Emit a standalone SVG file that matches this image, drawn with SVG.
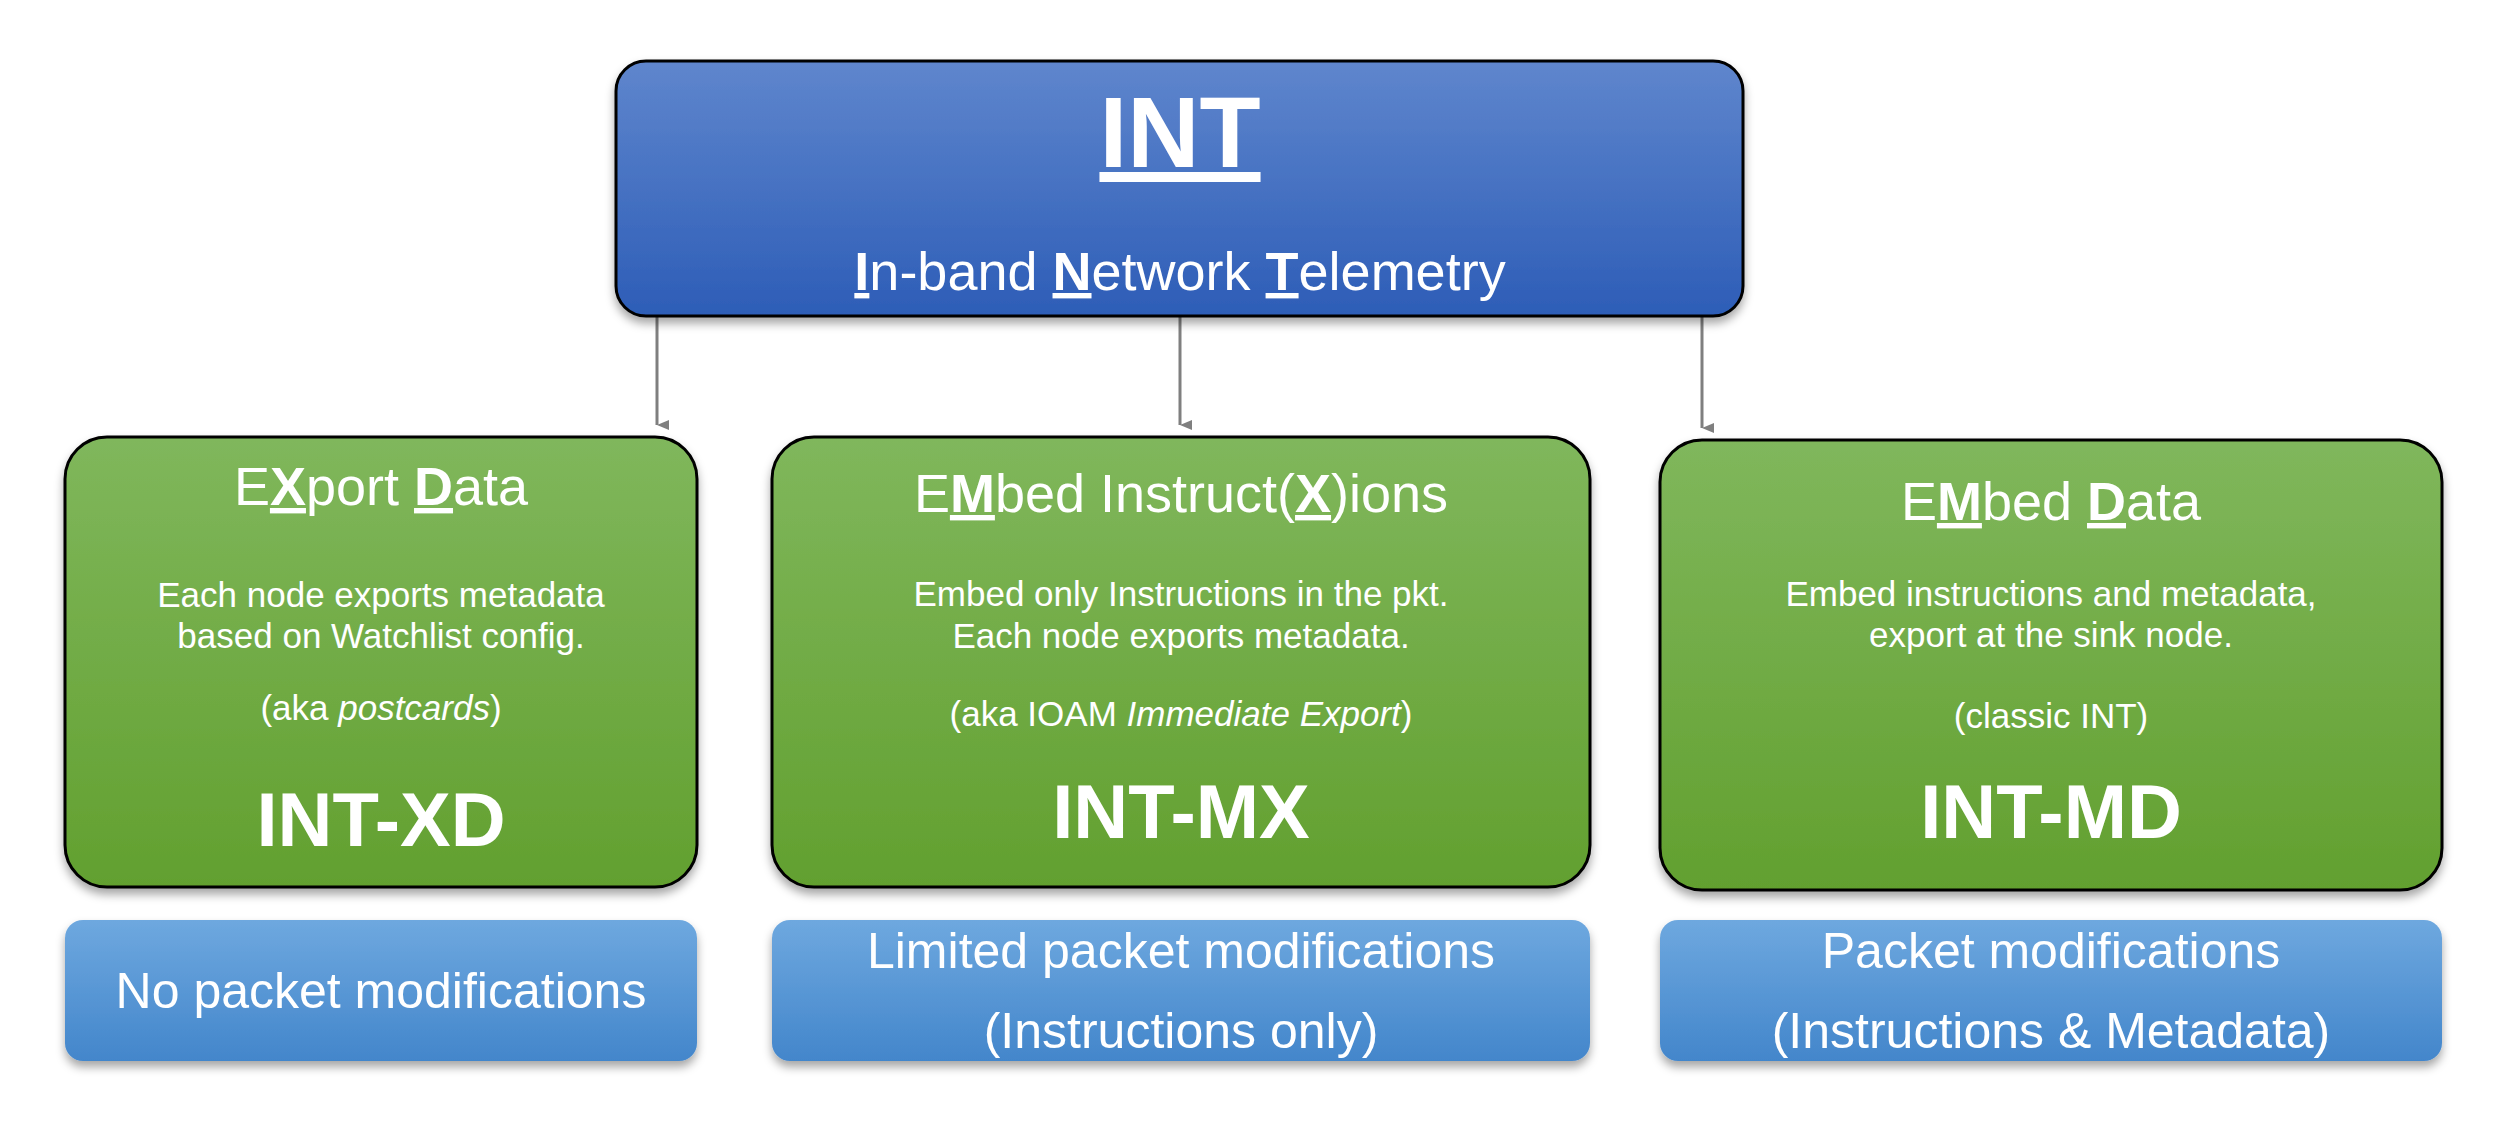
<svg xmlns="http://www.w3.org/2000/svg" width="2501" height="1121" viewBox="0 0 2501 1121">
<defs>
<linearGradient id="gTop" x1="0" y1="0" x2="0" y2="1"><stop offset="0" stop-color="#5f86cd"/><stop offset="1" stop-color="#2d5db7"/></linearGradient>
<linearGradient id="gGreen" x1="0" y1="0" x2="0" y2="1"><stop offset="0" stop-color="#80b75c"/><stop offset="1" stop-color="#62a02f"/></linearGradient>
<linearGradient id="gBlue" x1="0" y1="0" x2="0" y2="1"><stop offset="0" stop-color="#6ea8df"/><stop offset="1" stop-color="#4386cb"/></linearGradient>
<filter id="sh" x="-5%" y="-5%" width="110%" height="120%"><feDropShadow dx="0" dy="6" stdDeviation="5" flood-color="#000" flood-opacity="0.35"/></filter>
<marker id="ah" markerWidth="10" markerHeight="12" refX="5" refY="12" orient="auto-start-reverse" markerUnits="userSpaceOnUse" viewBox="0 0 10 12"><path d="M0,0 L10,0 L5,12 Z" fill="#7f7f7f"/></marker>
</defs>
<style>
text{font-family:"Liberation Sans","Open Sans",sans-serif;fill:#fff;text-anchor:middle}
.t{font-size:54px}
.b{font-size:35px}
.big{font-size:76px;font-weight:bold}
.u{text-decoration:underline;font-weight:bold}
.lbl{font-size:50px}
.conn{stroke:#7f7f7f;stroke-width:3;fill:none}
</style>
<rect width="2501" height="1121" fill="#fff"/>
<g id="connectors">
<path class="conn" d="M657,316 V425" marker-end="url(#ah)"/>
<path class="conn" d="M1180,316 V425" marker-end="url(#ah)"/>
<path class="conn" d="M1702,316 V428" marker-end="url(#ah)"/>
</g>
<g id="int">
<rect x="616" y="61" width="1127" height="255" rx="30" fill="url(#gTop)" stroke="#000" stroke-width="3" filter="url(#sh)"/>
<text x="1180" y="167" style="font-size:100px;font-weight:bold;text-decoration:underline">INT</text>
<text x="1180" y="290" style="font-size:54px"><tspan class="u">I</tspan>n-band <tspan class="u">N</tspan>etwork <tspan class="u">T</tspan>elemetry</text>
</g>
<g id="xd">
<rect x="65" y="437" width="632" height="450" rx="42" fill="url(#gGreen)" stroke="#000" stroke-width="3" filter="url(#sh)"/>
<text class="t" x="381" y="505">E<tspan class="u">X</tspan>port <tspan class="u">D</tspan>ata</text>
<text class="b" x="381" y="607">Each node exports metadata</text>
<text class="b" x="381" y="648">based on Watchlist config.</text>
<text class="b" x="381" y="720">(aka <tspan font-style="italic">postcards</tspan>)</text>
<text class="big" x="381" y="846">INT-XD</text>
</g>
<g id="mx">
<rect x="772" y="437" width="818" height="450" rx="42" fill="url(#gGreen)" stroke="#000" stroke-width="3" filter="url(#sh)"/>
<text class="t" x="1181" y="512">E<tspan class="u">M</tspan>bed Instruct(<tspan class="u">X</tspan>)ions</text>
<text class="b" x="1181" y="606">Embed only Instructions in the pkt.</text>
<text class="b" x="1181" y="648">Each node exports metadata.</text>
<text class="b" x="1181" y="726">(aka IOAM <tspan font-style="italic">Immediate Export</tspan>)</text>
<text class="big" x="1181" y="838">INT-MX</text>
</g>
<g id="md">
<rect x="1660" y="440" width="782" height="450" rx="42" fill="url(#gGreen)" stroke="#000" stroke-width="3" filter="url(#sh)"/>
<text class="t" x="2051" y="520">E<tspan class="u">M</tspan>bed <tspan class="u">D</tspan>ata</text>
<text class="b" x="2051" y="606">Embed instructions and metadata,</text>
<text class="b" x="2051" y="647">export at the sink node.</text>
<text class="b" x="2051" y="728">(classic INT)</text>
<text class="big" x="2051" y="838">INT-MD</text>
</g>
<g id="xd-note">
<rect x="65" y="920" width="632" height="141" rx="18" fill="url(#gBlue)" filter="url(#sh)"/>
<text class="lbl" x="381" y="1008">No packet modifications</text>
</g>
<g id="mx-note">
<rect x="772" y="920" width="818" height="141" rx="18" fill="url(#gBlue)" filter="url(#sh)"/>
<text class="lbl" x="1181" y="968">Limited packet modifications</text>
<text class="lbl" x="1181" y="1048">(Instructions only)</text>
</g>
<g id="md-note">
<rect x="1660" y="920" width="782" height="141" rx="18" fill="url(#gBlue)" filter="url(#sh)"/>
<text class="lbl" x="2051" y="968">Packet modifications</text>
<text class="lbl" x="2051" y="1048">(Instructions &amp; Metadata)</text>
</g>
</svg>
